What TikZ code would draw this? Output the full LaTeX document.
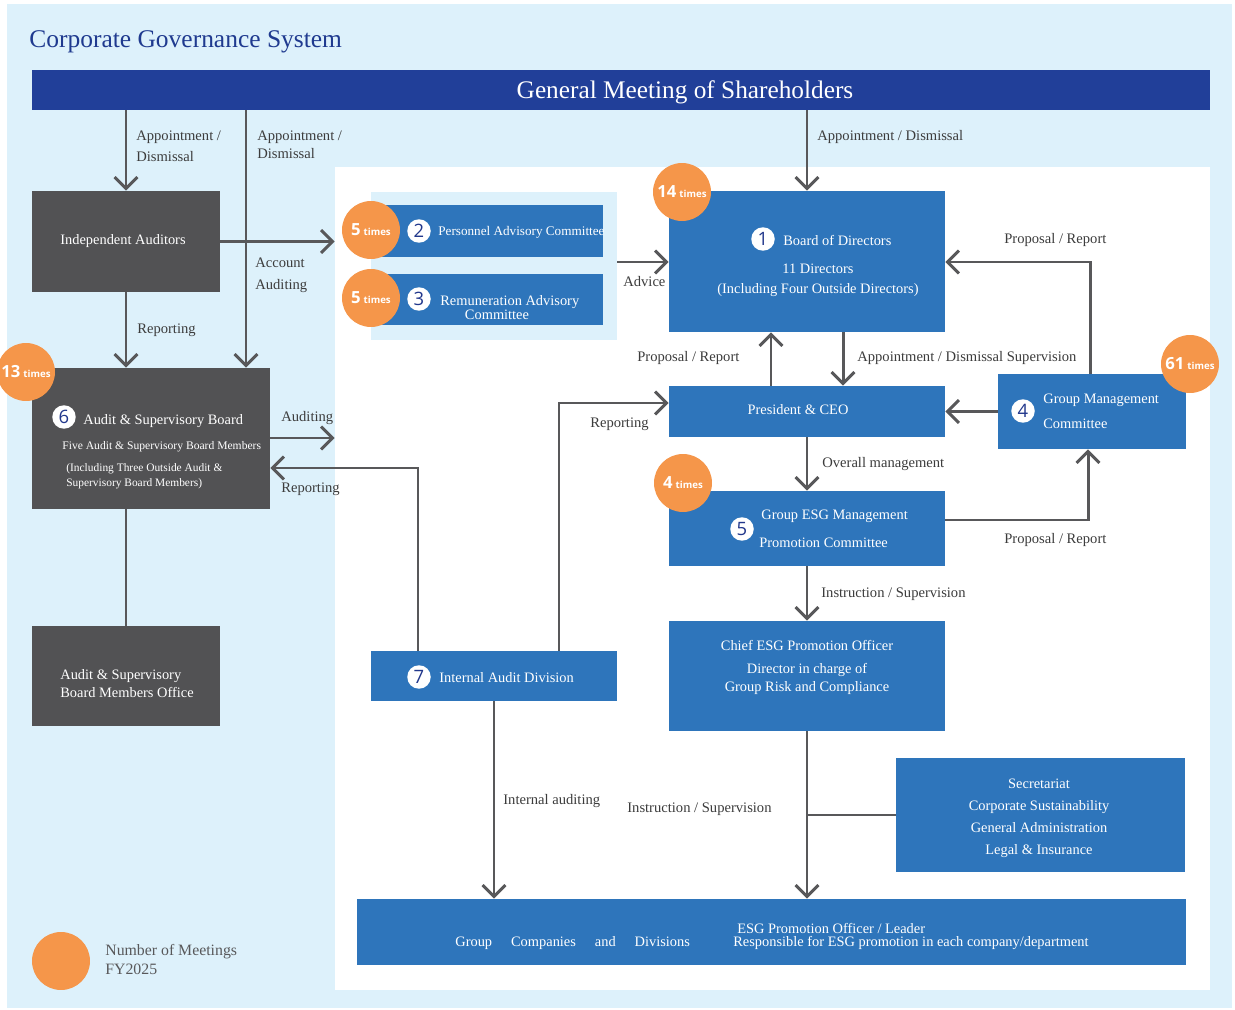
\documentclass[tikz,border=0pt]{standalone}
\usepackage{fontspec}
\setmainfont{Liberation Serif}
\newfontfamily\osans{Open Sans}
\usetikzlibrary{arrows.meta,fit}
\definecolor{bglight}{HTML}{DDF1FB}
\definecolor{barblue}{HTML}{213F99}
\definecolor{boxblue}{HTML}{2E75BB}
\definecolor{boxgray}{HTML}{525254}
\definecolor{arrgray}{HTML}{58585A}
\definecolor{badgeor}{HTML}{F5964A}
\definecolor{titleblue}{HTML}{1F3A8F}
\definecolor{numblue}{HTML}{22388C}
\definecolor{lbltext}{HTML}{3C3C3C}
\newcommand{\fs}[1]{\fontsize{#1}{#1}\selectfont}
\newcommand{\bdg}[1]{{\fs{9.5}#1}\,{\fs{5.5}times}}
\tikzset{
 bbox/.style={fill=boxblue, inner sep=0pt, draw=none},
 gbox/.style={fill=boxgray, inner sep=0pt, draw=none},
 arr/.style={draw=arrgray, line width=1.7pt, -{Straight Barb[length=6.5pt,width=13pt]}},
 ln/.style={draw=arrgray, line width=1.7pt},
 lbl/.style={font=\fs{8.3}, text=lbltext, anchor=base west, inner sep=0pt},
 wt/.style={font=\fs{8.2}, text=white, inner sep=0pt, anchor=base west},
 wtc/.style={wt, anchor=base},
 badge/.style={circle, fill=badgeor, minimum size=1.16cm, inner sep=0pt, text=white, font=\osans\bfseries},
 numc/.style={circle, fill=white, minimum size=0.47cm, inner sep=0pt, text=numblue, font=\osans\fs{10.5}},
}
\begin{document}
\begin{tikzpicture}[x=0.02cm, y=-0.02cm]
\useasboundingbox (0,0) rectangle (1235,1010);
\fill[white] (0,0) rectangle (1235,1010);
\fill[bglight] (7,4) rectangle (1232,1008);
% panels
\node[fill=white, inner sep=0pt, fit={(335,167)(1210,990)}] (wp) {};
\node[fill=bglight, inner sep=0pt, fit={(371,192)(617,340)}] (cp) {};
% helper coordinates
\coordinate (x246) at (246,0);
\coordinate (x418) at (418,0);
\coordinate (x494) at (494,0);
\coordinate (x559) at (559,0);
\coordinate (x771) at (771,0);
\coordinate (x843) at (843,0);
\coordinate (x1088) at (1088,0);
\coordinate (x1090) at (1090,0);
\coordinate (y262) at (0,262);
\coordinate (y403) at (0,403);
\coordinate (y438) at (0,438);
\coordinate (y468) at (0,468);
\coordinate (y520) at (0,520);
% title and bar
\node[anchor=base west, inner sep=0pt, font=\fs{14.5}, text=titleblue] (title) at (29,48) {Corporate Governance System};
\node[fill=barblue, inner sep=0pt, fit={(32,70)(1210,110)}] (bar) {};
\node[anchor=base, inner sep=0pt, font=\fs{14.4}, text=white] (bart) at (685,99) {General Meeting of Shareholders};
% boxes
\node[gbox, fit={(32,191)(220,292)}] (ia) {};
\node[gbox, fit={(32,368)(270,509)}] (asb) {};
\node[gbox, fit={(32,626)(220,726)}] (office) {};
\node[bbox, fit={(380,205)(603,257)}] (pac) {};
\node[bbox, fit={(380,274)(603,325)}] (rac) {};
\node[bbox, fit={(669,191)(945,332)}] (bod) {};
\node[bbox, fit={(669,386)(945,437)}] (pres) {};
\node[bbox, fit={(998,374)(1186,449)}] (gmc) {};
\node[bbox, fit={(669,491)(945,566)}] (esg) {};
\node[bbox, fit={(669,621)(945,731)}] (chief) {};
\node[bbox, fit={(371,651)(617,701)}] (iad) {};
\node[bbox, fit={(896,758)(1185,872)}] (sec) {};
\node[bbox, fit={(357,899)(1186,965)}] (bot) {};
% connectors
\draw[arr] (bar.south -| ia.north) -- (ia.north);
\draw[arr] (bar.south -| x246) -- (asb.north -| x246);
\draw[arr] (ia.east) -- (ia.east -| wp.west);
\draw[arr] (ia.south) -- (ia.south |- asb.north);
\draw[arr] (asb.east |- y438) -- (wp.west |- y438);
\draw[arr] (iad.north -| x418) |- (asb.east |- y468);
\draw[ln] (office.north |- asb.south) -- (office.north);
\draw[arr] (cp.east |- y262) -- (bod.west |- y262);
\draw[arr] (bar.south -| bod.north) -- (bod.north);
\draw[arr] (pres.north -| x771) -- (bod.south -| x771);
\draw[arr] (bod.south -| x843) -- (pres.north -| x843);
\draw[arr] (gmc.west) -- (pres.east);
\draw[arr] (gmc.north -| x1090) |- (bod.east |- y262);
\draw[arr] (pres.south) -- (esg.north);
\draw[arr] (esg.east |- y520) -| (gmc.south -| x1088);
\draw[arr] (iad.north -| x559) |- (pres.west |- y403);
\draw[arr] (esg.south) -- (chief.north);
\draw[arr] (chief.south) -- (chief.south |- bot.north);
\draw[ln] (sec.west) -- (sec.west -| chief.south);
\draw[arr] (iad.south -| x494) -- (bot.north -| x494);
% connector labels
\node[lbl] (l1a) at (136,141) {Appointment /};
\node[lbl] (l1b) at (136,162) {Dismissal};
\node[lbl] (l2a) at (257,141) {Appointment /};
\node[lbl] (l2b) at (257,159) {Dismissal};
\node[lbl] (l3a) at (255,268) {Account};
\node[lbl] (l3b) at (255,290) {Auditing};
\node[lbl] (l4) at (137,334) {Reporting};
\node[lbl] (l5) at (281,421) {Auditing};
\node[lbl] (l6) at (281,492) {Reporting};
\node[lbl] (l7) at (623,287) {Advice};
\node[lbl] (l8) at (817,141) {Appointment / Dismissal};
\node[lbl] (l9) at (1004,244) {Proposal / Report};
\node[lbl] (l10) at (637,362) {Proposal / Report};
\node[lbl] (l11) at (857,362) {Appointment / Dismissal Supervision};
\node[lbl] (l12) at (590,428) {Reporting};
\node[lbl] (l13) at (822,467) {Overall management};
\node[lbl] (l14) at (1004,543) {Proposal / Report};
\node[lbl] (l15) at (821,597) {Instruction / Supervision};
\node[lbl] (l16) at (503,804) {Internal auditing};
\node[lbl] (l17) at (627,812) {Instruction / Supervision};
% box texts
\node[wtc] (iat) at (123,245) {Independent Auditors};
\node[numc] (n6) at (64,417) {6};
\node[wt] (asbt1) at (83,424) {Audit \& Supervisory Board};
\node[wt, font=\fs{6.6}] (asbt2) at (62,449) {Five Audit \& Supervisory Board Members};
\node[wt, font=\fs{6.5}] (asbt3) at (66,472) {(Including Three Outside Audit \&};
\node[wt, font=\fs{6.5}] (asbt4) at (66,486) {Supervisory Board Members)};
\node[wt] (oft1) at (60,679) {Audit \& Supervisory};
\node[wt] (oft2) at (60,697) {Board Members Office};
\node[numc] (n2) at (419,231) {2};
\node[wt, font=\fs{7.5}] (pact) at (438,236) {Personnel Advisory Committee};
\node[numc] (n3) at (419,299) {3};
\node[wt] (ract1) at (440,306) {Remuneration Advisory};
\node[wtc] (ract2) at (497,320) {Committee};
\node[numc] (n1) at (763,239) {1};
\node[wt] (bodt1) at (783,246) {Board of Directors};
\node[wtc] (bodt2) at (818,274) {11 Directors};
\node[wtc] (bodt3) at (818,294) {(Including Four Outside Directors)};
\node[wtc] (prest) at (798,415) {President \& CEO};
\node[numc] (n4) at (1023,411) {4};
\node[wt] (gmct1) at (1043,403) {Group Management};
\node[wt] (gmct2) at (1043,429) {Committee};
\node[numc] (n5) at (742,529) {5};
\node[wt] (esgt1) at (761,520) {Group ESG Management};
\node[wt] (esgt2) at (759,547) {Promotion Committee};
\node[wtc] (cht1) at (807,650) {Chief ESG Promotion Officer};
\node[wtc] (cht2) at (807,673) {Director in charge of};
\node[wtc] (cht3) at (807,691) {Group Risk and Compliance};
\node[numc] (n7) at (419,677) {7};
\node[wt] (iadt) at (439,682) {Internal Audit Division};
\node[wtc] (sect1) at (1039,788) {Secretariat};
\node[wtc] (sect2) at (1039,810) {Corporate Sustainability};
\node[wtc] (sect3) at (1039,832) {General Administration};
\node[wtc] (sect4) at (1039,854) {Legal \& Insurance};
\node[wt] (bott1) at (455,946) {Group\hspace{10.8pt}Companies\hspace{10.8pt}and\hspace{10.8pt}Divisions};
\node[wt] (bott2) at (737,933) {ESG Promotion Officer / Leader};
\node[wt] (bott3) at (733,946) {Responsible for ESG promotion in each company/department};
% badges
\node[badge] (b13) at (26,372) {\bdg{13}};
\node[badge] (b5a) at (371,230) {\bdg{5}};
\node[badge] (b5b) at (371,298) {\bdg{5}};
\node[badge] (b14) at (682,192) {\bdg{14}};
\node[badge] (b61) at (1190,364) {\bdg{61}};
\node[badge] (b4) at (683,483) {\bdg{4}};
% legend
\node[badge] (leg) at (61,961) {};
\node[lbl, font=\fs{9}, text=arrgray] (legt1) at (105,955) {Number of Meetings};
\node[lbl, font=\fs{9}, text=arrgray] (legt2) at (105,974) {FY2025};
\end{tikzpicture}
\end{document}
